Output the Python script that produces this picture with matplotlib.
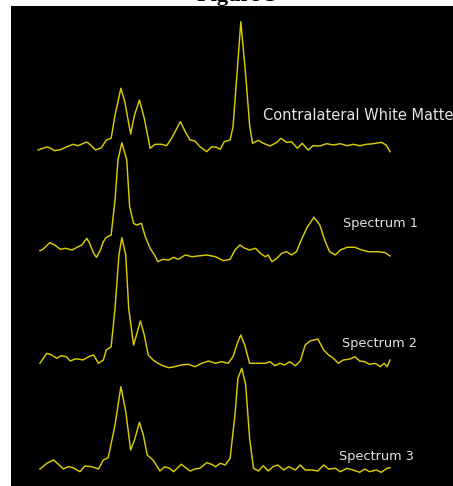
import matplotlib
matplotlib.use('Agg')
import matplotlib.pyplot as plt

# Colors
line_yellow = '#d8cd00'
label_gray = '#e4e4e4'

# Chemical shift (ppm) and amplitude (arbitrary units, baseline = 0)
wm_ppm = [4.01, 3.92, 3.89, 3.84, 3.78, 3.72, 3.65, 3.60, 3.51, 3.47, 3.42, 3.36, 3.31, 3.26,
          3.22, 3.16, 3.12, 3.06, 3.02, 2.97, 2.92, 2.86, 2.81, 2.74, 2.69, 2.64, 2.55, 2.50,
          2.45, 2.40, 2.35, 2.28, 2.23, 2.18, 2.14, 2.10, 2.04, 2.01, 1.97, 1.93, 1.88, 1.84,
          1.81, 1.75, 1.70, 1.63, 1.56, 1.52, 1.46, 1.41, 1.35, 1.30, 1.24, 1.19, 1.12, 1.05,
          0.98, 0.91, 0.84, 0.78, 0.71, 0.64, 0.57, 0.49, 0.44, 0.40]
wm_amp = [0, 3, 2.3, -0.7, 0.3, 3, 5.7, 4.3, 8, 5, 0, 2.3, 10, 11.7,
          35, 61.7, 48.3, 16, 35, 50, 31.7, 1.7, 5.7, 5.7, 4.3, 11.7, 28.3, 18.3,
          10, 9, 3.3, -1.7, 3.3, 2.7, 0.7, 8.3, 10, 23.3, 75, 128.3, 75, 25,
          6.7, 9.7, 6.7, 4, 7.7, 11.7, 7.7, 8.3, 1.7, 6.7, 0, 4.3, 4, 6.3,
          5, 6.3, 4.3, 5.7, 4.3, 5.7, 6.3, 7.7, 5, -1.7]

s1_ppm = [3.99, 3.96, 3.89, 3.84, 3.78, 3.73, 3.66, 3.61, 3.56, 3.51, 3.48, 3.44, 3.41, 3.37,
          3.34, 3.31, 3.26, 3.22, 3.19, 3.15, 3.10, 3.07, 3.03, 3.00, 2.95, 2.91, 2.86, 2.81,
          2.78, 2.73, 2.67, 2.62, 2.57, 2.50, 2.43, 2.37, 2.28, 2.19, 2.11, 2.04, 1.99, 1.94,
          1.89, 1.84, 1.78, 1.73, 1.68, 1.65, 1.61, 1.56, 1.51, 1.46, 1.41, 1.36, 1.31, 1.25,
          1.18, 1.12, 1.07, 1.02, 0.96, 0.91, 0.84, 0.76, 0.69, 0.62, 0.52, 0.45, 0.40]
s1_amp = [4.3, 5.7, 12.3, 10, 5.7, 6.7, 5, 7.7, 10, 16.7, 11.7, 1.7, -2.3, 5,
          13.3, 17.7, 20, 55, 95, 112.3, 95, 48.3, 31.7, 30, 31.7, 18.3, 6.7, -1,
          -6.7, -4.3, -5, -2.3, -4.3, 0, -1.7, -1, 0, -1.7, -5.7, -4.3, 5, 10,
          6.7, 5, 6.7, 1.7, -1.7, 0, -6.7, -3.3, 1.7, 3.3, 0, 3.3, 15, 27.7,
          37.7, 30, 15, 3.3, 0, 5, 7.7, 7.7, 5, 3.3, 3.3, 2.3, -1]

s2_ppm = [3.99, 3.92, 3.87, 3.82, 3.77, 3.72, 3.68, 3.63, 3.60, 3.55, 3.49, 3.44, 3.39, 3.34,
          3.31, 3.26, 3.22, 3.18, 3.15, 3.11, 3.08, 3.03, 3.00, 2.96, 2.92, 2.88, 2.83, 2.78,
          2.73, 2.67, 2.61, 2.54, 2.47, 2.40, 2.33, 2.26, 2.19, 2.13, 2.06, 2.01, 1.96, 1.93,
          1.89, 1.84, 1.77, 1.68, 1.63, 1.58, 1.53, 1.48, 1.43, 1.37, 1.32, 1.27, 1.22, 1.14,
          1.08, 1.03, 0.98, 0.93, 0.88, 0.81, 0.76, 0.71, 0.66, 0.61, 0.55, 0.50, 0.46, 0.43,
          0.40]
s2_amp = [1.7, 11.7, 10, 6.7, 9.3, 8.3, 4, 6, 6, 5, 8.3, 10, 1.7, 5,
          15, 18.3, 56.7, 110, 127.3, 110, 56.7, 20, 30, 44, 30, 10, 5, 1.7,
          -0.7, -2.7, -1.7, 0, 0.7, -1.7, 1.7, 4, 1.7, 3.3, 1.7, 8.3, 23.3, 30,
          20, 1.7, 1.7, 1.7, 3.3, -0.7, 1.7, 0, 3.3, -0.7, 4, 20, 24, 26,
          15, 10, 6.7, 1.7, 5, 6, 8.3, 4, 3.3, 0.7, 1.7, -1.7, 1.7, -1.7,
          5]

s3_ppm = [3.99, 3.92, 3.85, 3.80, 3.75, 3.70, 3.65, 3.58, 3.53, 3.46, 3.39, 3.34, 3.29, 3.22,
          3.16, 3.11, 3.06, 3.02, 2.97, 2.93, 2.89, 2.83, 2.76, 2.71, 2.66, 2.62, 2.54, 2.45,
          2.40, 2.35, 2.28, 2.23, 2.19, 2.14, 2.09, 2.04, 1.99, 1.96, 1.92, 1.88, 1.84, 1.80,
          1.75, 1.70, 1.65, 1.60, 1.55, 1.49, 1.44, 1.37, 1.32, 1.27, 1.20, 1.14, 1.08, 1.03,
          0.96, 0.91, 0.84, 0.78, 0.71, 0.66, 0.61, 0.54, 0.49, 0.43, 0.40]
s3_amp = [1, 6.7, 10, 5.7, 1, 3.3, 2.3, -1.7, 4, 3.3, 1, 10, 12.3, 45,
          83.3, 58.3, 20, 30, 47.7, 35, 15, 10, -1, 3.3, 1.7, -1.7, 5.7, -1,
          1, 1.7, 7.3, 5.7, 3.3, 6.7, 5, 11.7, 55, 91.7, 101.7, 85, 31.7, 1.7,
          -1, 4.3, -1, 3.3, 5, 0, 3.3, 0, 5, 0, 0, -1, 5, 1,
          1.7, -1.7, 1.7, 0, -2.3, 1, -1.7, 0, -2.3, 1.7, 2.3]

labels = ['Contralateral White Matter', 'Spectrum 1', 'Spectrum 2', 'Spectrum 3']

# Vertical stacking of the traces and where each label sits
offsets = [336, 231, 121, 16]
label_pos = [(1.70, 35, 10.5), (0.88, 32, 9.3), (0.89, 22, 9.3), (0.92, 14, 9.3)]

fig = plt.figure(figsize=(4.53, 4.86), dpi=100)
fig.patch.set_facecolor('white')

# Black display panel
ax = fig.add_axes([11 / 453, 0, 442 / 453, 480 / 486])
ax.set_facecolor('black')
ax.set_xlim(4.287, -0.246)
ax.set_ylim(0, 480)
ax.set_xticks([])
ax.set_yticks([])
for side in ax.spines.values():
    side.set_visible(False)

traces = [(wm_ppm, wm_amp), (s1_ppm, s1_amp), (s2_ppm, s2_amp), (s3_ppm, s3_amp)]
for (ppm, amp), off, name, (lx, ly, fs) in zip(traces, offsets, labels, label_pos):
    ax.plot(ppm, [a + off for a in amp], color=line_yellow, linewidth=1.05)
    ax.text(lx, off + ly, name, color=label_gray, fontsize=fs, ha='left', va='center',
            clip_on=False)

# Caption sitting above the panel (mostly cut off by the top edge)
fig.text(237 / 453, 1 - 1.5 / 486, 'Figure 3', ha='center', va='baseline', fontsize=16,
         fontweight='bold', family='Liberation Serif', zorder=-1)

fig.savefig('out.png', dpi=100, facecolor='white')
